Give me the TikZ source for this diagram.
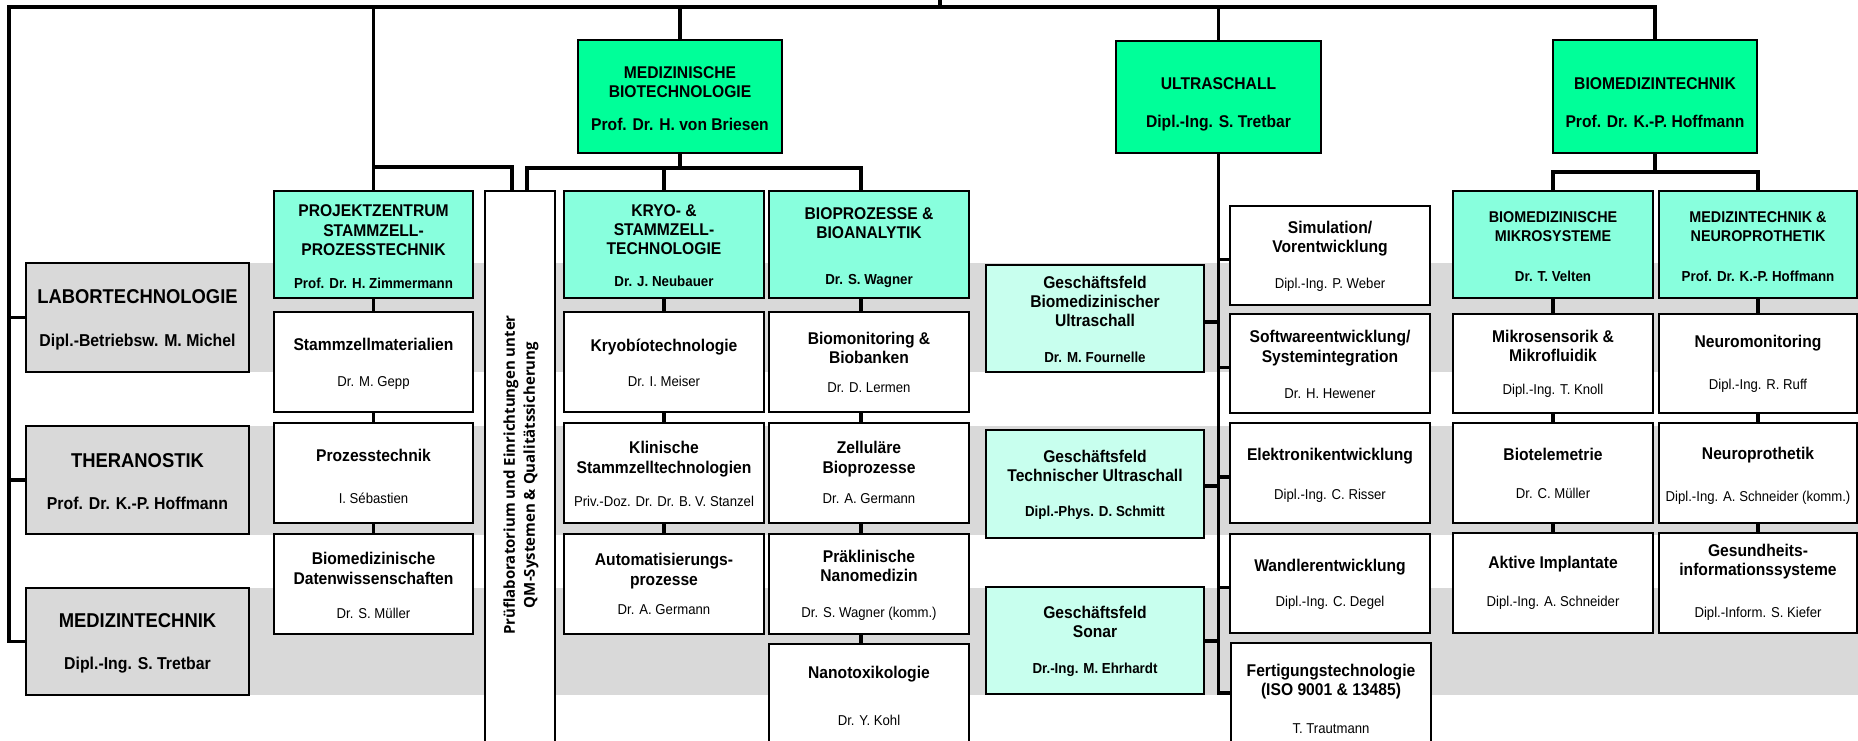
\documentclass[tikz,border=0pt]{standalone}
\usepackage{fontspec}
\setmainfont{Liberation Sans}[FakeStretch=0.92]
\newfontfamily\opensans{Open Sans}
\definecolor{cGray}{RGB}{217,217,217}
\definecolor{cTop}{RGB}{0,255,153}
\definecolor{cSec}{RGB}{136,255,221}
\definecolor{cGF}{RGB}{200,255,238}
\newcommand\TT{\fontsize{17}{19.2}\selectfont\bfseries}
\newcommand\PR{\fontsize{14.3}{19.2}\selectfont\mdseries}
\newcommand\PB{\fontsize{14.5}{19.2}\selectfont\bfseries}
\newcommand\GT{\fontsize{20}{19.2}\selectfont\bfseries}
\newcommand\GS{\fontsize{17.2}{19.2}\selectfont\bfseries}
\newcommand\ST{\fontsize{15.6}{19.2}\selectfont\bfseries}
\newcommand\PF{\opensans\fontsize{15}{20}\selectfont\bfseries}
\tikzset{
  conn/.style={line width=3.2pt},
  bx/.style={draw=black, line width=1.8pt, inner sep=0pt},
  grayb/.style={bx, fill=cGray, minimum width=223pt, minimum height=108pt},
  topb/.style={bx, fill=cTop, minimum width=204pt, minimum height=113pt},
  secb/.style={bx, fill=cSec, minimum width=200pt, minimum height=107pt},
  gfb/.style={bx, fill=cGF, minimum width=218pt, minimum height=107pt},
  itb/.style={bx, fill=white, minimum width=200pt, minimum height=100pt},
  txt/.style={align=center, inner sep=0pt, font=\TT},
}
\begin{document}
\begin{tikzpicture}[x=1pt,y=-1pt]
\useasboundingbox (0,0) rectangle (1858,741);
\clip (0,0) rectangle (1858,741);
% gray bands
\fill[cGray] (26,263) rectangle (1858,372);
\fill[cGray] (26,426) rectangle (1858,535);
\fill[cGray] (26,588) rectangle (1858,695);

% ---------- boxes ----------
\node[grayb, minimum height=109pt] (g1) at (137.5,317.5) {};
\node[grayb] (g2) at (137.5,480) {};
\node[grayb, minimum height=107pt] (g3) at (137.5,641.5) {};

\node[topb] (mb) at (680,96.5) {};
\node[topb, minimum width=205pt, minimum height=112pt] (us) at (1218.5,97) {};
\node[topb] (bt) at (1655,96.5) {};

\node[secb, minimum width=199pt] (pz) at (373.5,244.5) {};
\node[secb] (kryo) at (664,244.5) {};
\node[secb] (bp) at (869,244.5) {};
\node[secb] (bms) at (1553,244.5) {};
\node[secb, minimum width=198pt] (mtn) at (1758,244.5) {};

\node[bx, fill=white, minimum width=70pt, minimum height=569pt] (pf) at (520,475.5) {};

\node[itb, minimum width=199pt] (sm) at (373.5,362) {};
\node[itb, minimum width=199pt] (pt) at (373.5,473) {};
\node[itb, minimum width=199pt] (bd) at (373.5,584) {};
\node[itb] (kb) at (664,362) {};
\node[itb] (ks) at (664,473) {};
\node[itb] (au) at (664,584) {};
\node[itb] (bm) at (869,362) {};
\node[itb] (zb) at (869,473) {};
\node[itb] (pn) at (869,584) {};
\node[itb, minimum height=116pt] (nt) at (869,702) {};

\node[gfb] (gf1) at (1095,318.5) {};
\node[gfb, minimum height=108pt] (gf2) at (1095,484) {};
\node[gfb] (gf3) at (1095,640.5) {};

\node[itb, minimum height=99pt] (si) at (1330,255.5) {};
\node[itb, minimum height=99pt] (sw) at (1330,363.5) {};
\node[itb] (el) at (1330,473) {};
\node[itb, minimum height=99pt] (wa) at (1330,583.5) {};
\node[itb, minimum height=117pt] (fe) at (1331,701.5) {};

\node[itb, minimum height=99pt] (ms) at (1553,363.5) {};
\node[itb] (bte) at (1553,473) {};
\node[itb] (ai) at (1553,583) {};
\node[itb, minimum width=198pt, minimum height=99pt] (nm) at (1758,363.5) {};
\node[itb, minimum width=198pt] (np) at (1758,473) {};
\node[itb, minimum width=198pt] (gi) at (1758,583) {};

% ---------- texts ----------
\node[txt, font=\GT] (g1-t) at (137.5,319.5) {LABORTECHNOLOGIE\\[23.8pt]\GS Dipl.-Betriebsw. M. Michel};
\node[txt, font=\GT] (g2-t) at (137.5,482) {THERANOSTIK\\[22.8pt]\GS Prof. Dr. K.-P. Hoffmann};
\node[txt, font=\GT] (g3-t) at (137.5,643) {MEDIZINTECHNIK\\[22.8pt]\GS Dipl.-Ing. S. Tretbar};

\node[txt] (mb-t) at (680,99) {MEDIZINISCHE\\BIOTECHNOLOGIE\\[13.8pt]Prof. Dr. H. von Briesen};
\node[txt] (us-t) at (1218.5,104.3) {ULTRASCHALL\\[18.1pt]Dipl.-Ing. S. Tretbar};
\node[txt] (bt-t) at (1655,103) {BIOMEDIZINTECHNIK\\[18.8pt]Prof. Dr. K.-P. Hoffmann};

\node[txt] (pz-t) at (373.5,246.8) {PROJEKTZENTRUM\\STAMMZELL-\\PROZESSTECHNIK\\[13.8pt]\PB Prof. Dr. H. Zimmermann};
\node[txt] (kryo-t) at (664,245.5) {KRYO- \&\\STAMMZELL-\\TECHNOLOGIE\\[12.8pt]\PB Dr. J. Neubauer};
\node[txt] (bp-t) at (869,247.5) {BIOPROZESSE \&\\BIOANALYTIK\\[26.8pt]\PB Dr. S. Wagner};
\node[txt, font=\ST] (bms-t) at (1553,247) {BIOMEDIZINISCHE\\MIKROSYSTEME\\[20.8pt]\PB Dr. T. Velten};
\node[txt, font=\ST] (mtn-t) at (1758,247) {MEDIZINTECHNIK \&\\NEUROPROTHETIK\\[20.8pt]\PB Prof. Dr. K.-P. Hoffmann};

\node[txt, font=\PF, rotate=90] (pf-t) at (521,475) {Prüflaboratorium und Einrichtungen unter\\QM-Systemen \& Qualitätssicherung};

\node[txt] (sm-t) at (373.5,363.7) {Stammzellmaterialien\\[16.8pt]\PR Dr. M. Gepp};
\node[txt] (pt-t) at (373.5,476.4) {Prozesstechnik\\[23.5pt]\PR I. Sébastien};
\node[txt] (bd-t) at (373.5,585.4) {Biomedizinische\\Datenwissenschaften\\[14.8pt]\PR Dr. S. Müller};
\node[txt] (kb-t) at (664,362.5) {Kryobíotechnologie\\[15.8pt]\PR Dr. I. Meiser};
\node[txt] (ks-t) at (664,474) {Klinische\\Stammzelltechnologien\\[13.8pt]\PR Priv.-Doz. Dr. Dr. B. V. Stanzel};
\node[txt] (au-t) at (664,584) {Automatisierungs-\\prozesse\\[9.8pt]\PR Dr. A. Germann};
\node[txt] (bm-t) at (869,362.5) {Biomonitoring \&\\Biobanken\\[9.8pt]\PR Dr. D. Lermen};
\node[txt] (zb-t) at (869,472.5) {Zelluläre\\Bioprozesse\\[10.8pt]\PR Dr. A. Germann};
\node[txt] (pn-t) at (869,585) {Präklinische\\Nanomedizin\\[16.8pt]\PR Dr. S. Wagner (komm.)};
\node[txt] (nt-t) at (869,695.5) {Nanotoxikologie\\[27.8pt]\PR Dr. Y. Kohl};

\node[txt] (gf1-t) at (1095,319.5) {Geschäftsfeld\\Biomedizinischer\\Ultraschall\\[16.8pt]\PB Dr. M. Fournelle};
\node[txt] (gf2-t) at (1095,484.5) {Geschäftsfeld\\Technischer Ultraschall\\[15.8pt]\PB Dipl.-Phys. D. Schmitt};
\node[txt] (gf3-t) at (1095,641.5) {Geschäftsfeld\\Sonar\\[16.8pt]\PB Dr.-Ing. M. Ehrhardt};

\node[txt] (si-t) at (1330,256) {Simulation/\\Vorentwicklung\\[16.8pt]\PR Dipl.-Ing. P. Weber};
\node[txt] (sw-t) at (1330,364.5) {Softwareentwicklung/\\Systemintegration\\[16.8pt]\PR Dr. H. Hewener};
\node[txt] (el-t) at (1330,475.5) {Elektronikentwicklung\\[19.8pt]\PR Dipl.-Ing. C. Risser};
\node[txt] (wa-t) at (1330,584.5) {Wandlerentwicklung\\[15.8pt]\PR Dipl.-Ing. C. Degel};
\node[txt] (fe-t) at (1331,699) {Fertigungstechnologie\\(ISO 9001 \& 13485)\\[18.8pt]\PR T. Trautmann};

\node[txt] (ms-t) at (1553,364) {Mikrosensorik \&\\Mikrofluidik\\[13.8pt]\PR Dipl.-Ing. T. Knoll};
\node[txt] (bte-t) at (1553,473) {Biotelemetrie\\[18.8pt]\PR Dr. C. Müller};
\node[txt] (ai-t) at (1553,583) {Aktive Implantate\\[18.8pt]\PR Dipl.-Ing. A. Schneider};
\node[txt] (nm-t) at (1758,364) {Neuromonitoring\\[22.8pt]\PR Dipl.-Ing. R. Ruff};
\node[txt] (np-t) at (1758,476) {Neuroprothetik\\[22.8pt]\PR Dipl.-Ing. A. Schneider (komm.)};
\node[txt] (gi-t) at (1758,582.5) {Gesundheits-\\informationssysteme\\[22.8pt]\PR Dipl.-Inform. S. Kiefer};

% ---------- connectors ----------
\coordinate (tl) at (9,7);
\coordinate (root) at (940,0);
\draw[conn] (root) -- (root |- tl);
\draw[conn] (g3.west) -| (tl) -| (bt.north);
\draw[conn] (g1.west) -- (g1.west -| tl);
\draw[conn] (g2.west) -- (g2.west -| tl);

\draw[conn] (pz.north) -- (pz.north |- tl);
\draw[conn] (mb.north) -- (mb.north |- tl);
\draw[conn] (us.north) -- (us.north |- tl);

\coordinate (pzj) at (373.5,167);
\path ([xshift=-8pt]pf.north) coordinate (pfL);
\path ([xshift=7pt]pf.north) coordinate (pfR);
\path ([xshift=-8pt]bp.north) coordinate (bpT);
\draw[conn] (pzj) -| (pfL);
\coordinate (mbj) at (680,168);
\draw[conn] (mb.south) -- (mbj);
\draw[conn] (pfR) |- (mbj) -| (bpT);
\draw[conn] (kryo.north) -- (kryo.north |- mbj);

\coordinate (btj) at (1655,172);
\draw[conn] (bt.south) -- (btj);
\draw[conn] (bms.north) -- (bms.north |- btj) -- (mtn.north |- btj) -- (mtn.north);

% column connectors
\draw[conn] (pz.south) -- (sm.north);
\draw[conn] (sm.south) -- (pt.north);
\draw[conn] (pt.south) -- (bd.north);
\draw[conn] (kryo.south) -- (kb.north);
\draw[conn] (kb.south) -- (ks.north);
\draw[conn] (ks.south) -- (au.north);
\draw[conn] ([xshift=-8pt]bp.south) -- ([xshift=-8pt]bm.north);
\draw[conn] ([xshift=-8pt]bm.south) -- ([xshift=-8pt]zb.north);
\draw[conn] ([xshift=-8pt]zb.south) -- ([xshift=-8pt]pn.north);
\draw[conn] ([xshift=-8pt]pn.south) -- ([xshift=-8pt]nt.north);
\draw[conn] (bms.south) -- (ms.north);
\draw[conn] (ms.south) -- (bte.north);
\draw[conn] (bte.south) -- (ai.north);
\draw[conn] (mtn.south) -- (nm.north);
\draw[conn] (nm.south) -- (np.north);
\draw[conn] (np.south) -- (gi.north);

% ultraschall spine
\coordinate (usEnd) at (1218.5,693);
\draw[conn] (us.south) -- (usEnd) -- (usEnd -| fe.west);
\path ([yshift=-4pt]si.west) coordinate (siB);
\path ([yshift=-4pt]sw.west) coordinate (swB);
\path ([yshift=-4pt]el.west) coordinate (elB);
\path ([yshift=-4pt]wa.west) coordinate (waB);
\path ([yshift=-3.5pt]gf1.east) coordinate (gf1B);
\path ([yshift=-2pt]gf2.east) coordinate (gf2B);
\path ([yshift=-0.5pt]gf3.east) coordinate (gf3B);
\foreach \c in {siB,swB,elB,waB,gf1B,gf2B,gf3B}
  \draw[conn] (\c) -- (\c -| usEnd);
\end{tikzpicture}
\end{document}
